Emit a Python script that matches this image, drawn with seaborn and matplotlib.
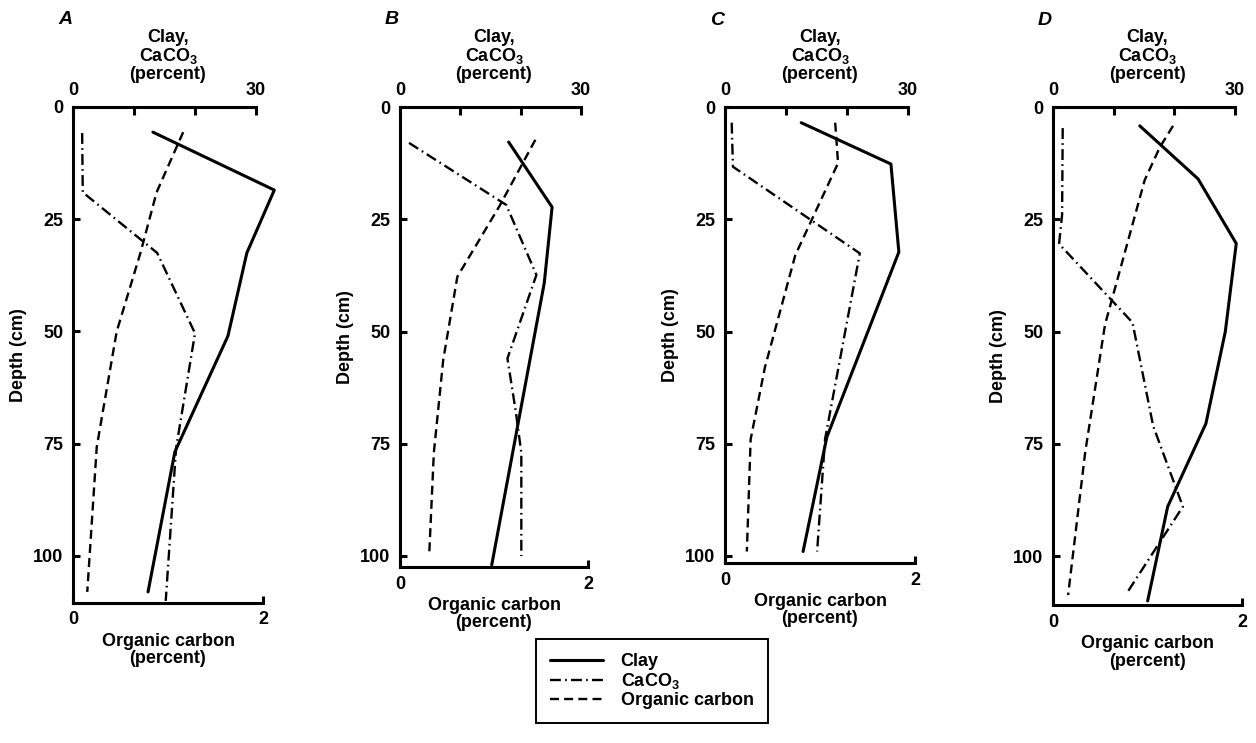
import matplotlib
matplotlib.use("Agg")
import matplotlib.pyplot as plt
from matplotlib.lines import Line2D
import seaborn as sns

# ---------------- data ----------------
panel_names = ["A", "B", "C", "D"]

# Panel A
depthA_clay = [5.6, 18.5, 32.5, 51, 76.8, 108]
clayA = [13.1, 33.0, 28.5, 25.4, 16.7, 12.3]
depthA_caco3 = [5.8, 19, 32.5, 50.4, 76, 110]
caco3A = [1.5, 1.6, 13.8, 20.0, 16.9, 15.2]
depthA_oc = [5.6, 19, 32.5, 50, 75.7, 108]
ocA = [1.16, 0.88, 0.71, 0.46, 0.25, 0.15]

# Panel B
depthB_clay = [7.8, 22.3, 39.2, 102]
clayB = [18.0, 25.2, 23.9, 15.2]
depthB_caco3 = [8, 21.8, 37.4, 56, 68, 77, 100]
caco3B = [1.5, 17.6, 22.6, 17.8, 19.2, 20.1, 20.1]
depthB_oc = [7.3, 22, 37.8, 56.3, 77, 100]
ocB = [1.44, 1.06, 0.61, 0.46, 0.36, 0.31]

# Panel C
depthC_clay = [3.5, 12.7, 32.3, 73.5, 99]
clayC = [12.5, 27.2, 28.5, 16.7, 12.8]
depthC_caco3 = [3.5, 13.3, 32.6, 74, 99]
caco3C = [1.1, 1.3, 22.1, 16.4, 15.1]
depthC_oc = [3.5, 12.5, 33, 58, 74, 99]
ocC = [1.16, 1.19, 0.74, 0.42, 0.27, 0.23]

# Panel D
depthD_clay = [4.2, 16, 30.4, 50, 70.5, 89, 110]
clayD = [14.3, 23.9, 30.2, 28.4, 25.2, 18.9, 15.6]
depthD_caco3 = [4.7, 24, 30.5, 48, 71, 89, 108]
caco3D = [1.6, 1.5, 1.0, 13.1, 16.5, 21.4, 12.3]
depthD_oc = [4.2, 9, 16.3, 48.5, 77, 108.7]
ocD = [1.27, 1.13, 0.97, 0.55, 0.34, 0.16]

depth_ticks = [0, 25, 50, 75, 100]
top_ticks = [0, 10, 20, 30]
top_ticklabels = ["0", "", "", "30"]
bottom_ticks = [0, 2]
bottom_ticklabels = ["0", "2"]
legend_labels = ["Clay", "CaCO$_3$", "Organic carbon"]

clay_data = [(depthA_clay, clayA), (depthB_clay, clayB), (depthC_clay, clayC), (depthD_clay, clayD)]
caco3_data = [(depthA_caco3, caco3A), (depthB_caco3, caco3B), (depthC_caco3, caco3C), (depthD_caco3, caco3D)]
oc_data = [(depthA_oc, ocA), (depthB_oc, ocB), (depthC_oc, ocC), (depthD_oc, ocD)]

# ---------------- style ----------------
sns.set_style("ticks", rc={
    "axes.edgecolor": "black", "text.color": "black", "axes.labelcolor": "black",
    "xtick.color": "black", "ytick.color": "black",
})
plt.rcParams["font.family"] = ["Liberation Sans", "DejaVu Sans"]
plt.rcParams["font.weight"] = "bold"
plt.rcParams["axes.labelweight"] = "bold"
plt.rcParams["mathtext.default"] = "regular"

FS = 13
SPINE_W = 2.2
clay_style = dict(color="black", lw=2.2, linestyle="-")
caco3_style = dict(color="black", lw=1.7, linestyle=(0, (4.6, 1.8, 0.7, 1.8)))
oc_style = dict(color="black", lw=1.7, linestyle=(0, (3.8, 2.2)))

W, H = 1256, 743
PX_PER_CM = 4.49
TOP_PX = 107
layout = [  # left px, width px, depth max
    (73, 190, 110.5),
    (400, 188, 102.5),
    (725, 190, 101.6),
    (1053, 189, 111.0),
]
TOP_XMAX = 30 * 190 / 183

fig = plt.figure(figsize=(W / 100, H / 100), dpi=100)

for i, name in enumerate(panel_names):
    left, width, ymax = layout[i]
    height = ymax * PX_PER_CM
    ax = fig.add_axes([left / W, 1 - (TOP_PX + height) / H, width / W, height / H])
    axt = ax.twiny()

    d, v = oc_data[i]
    sns.lineplot(x=v, y=d, sort=False, estimator=None, ax=ax, clip_on=False, **oc_style)
    d, v = clay_data[i]
    sns.lineplot(x=v, y=d, sort=False, estimator=None, ax=axt, clip_on=False, **clay_style)
    d, v = caco3_data[i]
    sns.lineplot(x=v, y=d, sort=False, estimator=None, ax=axt, clip_on=False, **caco3_style)

    ax.set_xlim(0, 2)
    axt.set_xlim(0, TOP_XMAX)
    ax.set_ylim(ymax, 0)

    for s in ["right", "top"]:
        ax.spines[s].set_visible(False)
    for s in ["right", "left", "bottom"]:
        axt.spines[s].set_visible(False)
    for s in ["left", "bottom"]:
        ax.spines[s].set_linewidth(SPINE_W)
    axt.spines["top"].set_linewidth(SPINE_W)
    axt.spines["top"].set_bounds(0, 30)

    ax.set_yticks(depth_ticks)
    ax.set_yticklabels([str(t) for t in depth_ticks])
    ax.set_xticks(bottom_ticks)
    ax.set_xticklabels(bottom_ticklabels)
    axt.set_xticks(top_ticks)
    axt.set_xticklabels(top_ticklabels)

    ax.tick_params(axis="y", direction="in", length=5, width=SPINE_W, pad=7, labelsize=FS)
    ax.tick_params(axis="x", direction="in", length=5, width=SPINE_W, pad=6, labelsize=FS)
    axt.tick_params(axis="x", direction="in", length=6, width=SPINE_W, pad=6, labelsize=FS)

    ax.set_ylabel("Depth (cm)", fontsize=FS, labelpad=4, fontweight="bold")
    ax.set_xlabel("Organic carbon\n(percent)", fontsize=FS, labelpad=3, linespacing=1.05,
                  fontweight="bold")
    axt.set_xlabel("Clay,\nCaCO$_3$\n(percent)", fontsize=FS, labelpad=2, linespacing=1.0,
                   fontweight="bold")

    ax.annotate(name, xy=(0, 1), xycoords="axes fraction", xytext=(-8, 87),
                textcoords="offset pixels", ha="center", va="center",
                fontsize=14, fontweight="bold", fontstyle="italic")

handles = [Line2D([], [], **clay_style), Line2D([], [], **caco3_style), Line2D([], [], **oc_style)]
leg = fig.legend(handles, legend_labels, loc="center", bbox_to_anchor=(652 / W, 1 - 681 / H),
                 frameon=True, fancybox=False, edgecolor="black", framealpha=1,
                 handlelength=2.9, handletextpad=1.0, labelspacing=0.05, borderpad=0.8,
                 fontsize=FS)
leg.get_frame().set_linewidth(1.4)

fig.savefig("out.png", dpi=100)
